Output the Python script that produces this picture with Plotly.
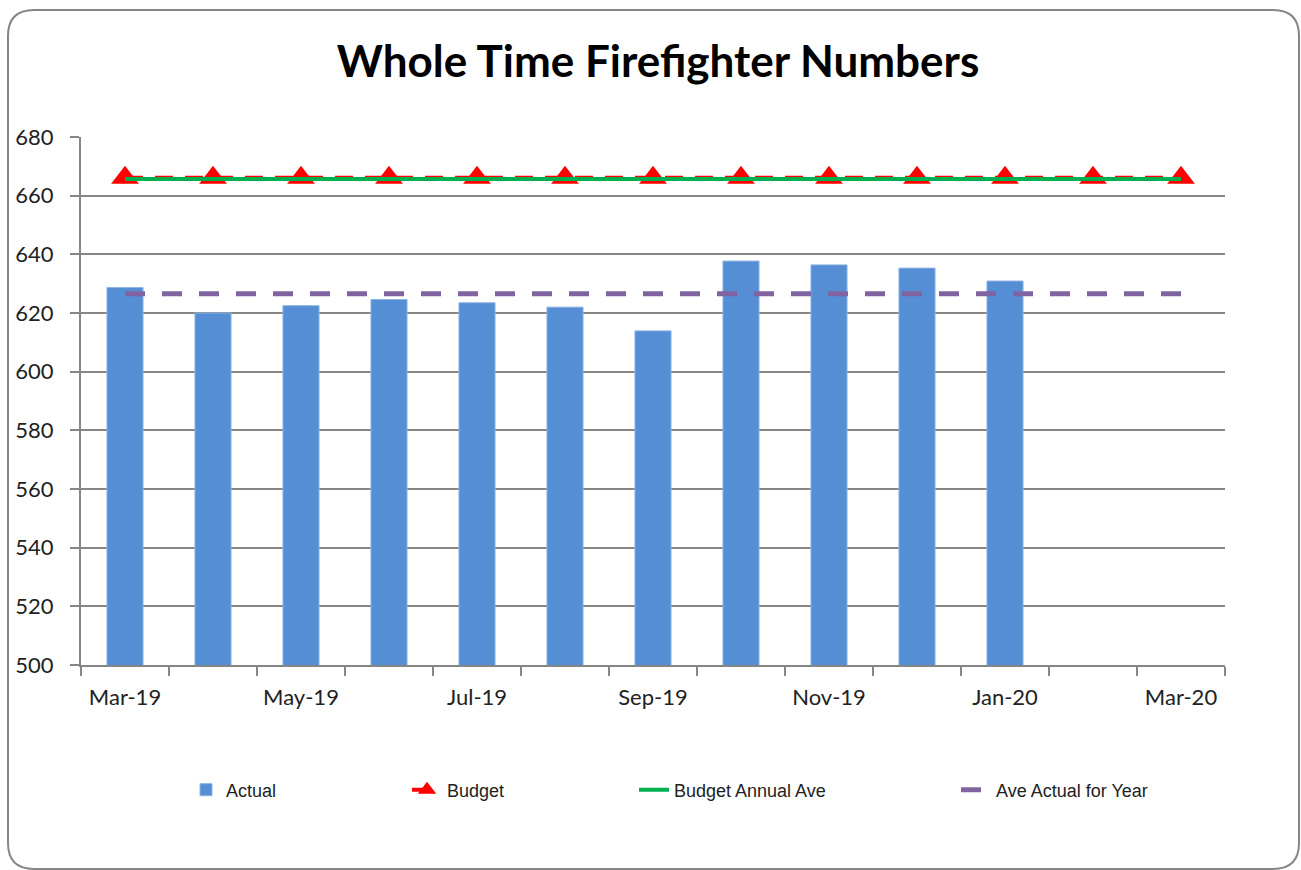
import plotly.graph_objects as go

months = ["Mar-19", "Apr-19", "May-19", "Jun-19", "Jul-19", "Aug-19", "Sep-19",
          "Oct-19", "Nov-19", "Dec-19", "Jan-20", "Feb-20", "Mar-20"]
tick_labels = ["Mar-19", "", "May-19", "", "Jul-19", "", "Sep-19",
               "", "Nov-19", "", "Jan-20", "", "Mar-20"]
actual = [628.7, 620.0, 622.5, 624.6, 623.5, 622.0, 613.9, 637.7, 636.4, 635.3, 630.9]
budget = [666.1] * 13
budget_annual_ave = [665.7] * 13
ave_actual_year = [626.6] * 13
y_ticks = [500, 520, 540, 560, 580, 600, 620, 640, 660, 680]

W, H = 1301, 870
L, R, T, B = 81, 1225, 137, 665

def px(x):
    return (x - L) / (R - L)

def py(y):
    return (B - y) / (B - T)

fig = go.Figure()
fig.add_trace(go.Bar(
    x=months[:len(actual)], y=actual, name="Actual", legend="legend",
    marker=dict(color="#558ED5", line=dict(color="#8DB4E2", width=1)),
))
fig.add_trace(go.Scatter(
    x=months, y=budget, name="Budget", mode="lines+markers", legend="legend2",
    line=dict(color="#FF0000", width=4, dash="18px,12px"),
    marker=dict(symbol="triangle-up", size=24, color="#FF0000"),
))
fig.add_trace(go.Scatter(
    x=months, y=budget_annual_ave, name="Budget Annual Ave", mode="lines", legend="legend3",
    line=dict(color="#00B050", width=4),
))
fig.add_trace(go.Scatter(
    x=months, y=ave_actual_year, name="Ave Actual for Year", mode="lines", legend="legend4",
    line=dict(color="#8064A2", width=5, dash="20px,17px"),
))

# rounded chart border
x0, x1, y0, y1, r = 8, 1299, 10, 869, 26
rx = r / (R - L)
ry = r / (B - T)
path = (f"M {px(x0)},{py(y0) - ry} Q {px(x0)},{py(y0)} {px(x0) + rx},{py(y0)} "
        f"L {px(x1) - rx},{py(y0)} Q {px(x1)},{py(y0)} {px(x1)},{py(y0) - ry} "
        f"L {px(x1)},{py(y1) + ry} Q {px(x1)},{py(y1)} {px(x1) - rx},{py(y1)} "
        f"L {px(x0) + rx},{py(y1)} Q {px(x0)},{py(y1)} {px(x0)},{py(y1) + ry} Z")
fig.add_shape(type="path", path=path, xref="paper", yref="paper",
              line=dict(color="#868686", width=2), layer="below")

legend_font = dict(family="Liberation Sans, Arial, sans-serif", size=18, color="#222222")
def legend_at(text_x):
    return dict(orientation="h", x=px(text_x - 42), xanchor="left", y=py(790), yanchor="middle",
                font=legend_font, bgcolor="rgba(0,0,0,0)")

fig.update_layout(
    width=W, height=H,
    margin=dict(l=L, r=W - R, t=T, b=H - B, autoexpand=False),
    paper_bgcolor="white", plot_bgcolor="white",
    title=dict(text="<b>Whole Time Firefighter Numbers</b>", x=px(658), xanchor="center",
               xref="paper", y=1 - 62 / H, yanchor="middle",
               font=dict(family="Lato, Open Sans, sans-serif", size=44, color="black")),
    bargap=0.59,
    showlegend=True,
    legend=legend_at(228),
    legend2=legend_at(449),
    legend3=legend_at(676),
    legend4=legend_at(998),
    font=dict(family="Lato, Open Sans, sans-serif", size=22, color="#222222"),
)
fig.update_xaxes(
    type="category", tickmode="array", tickvals=months, ticktext=tick_labels,
    tickson="boundaries", ticks="outside", ticklen=9, tickcolor="#868686", tickwidth=2,
    showline=True, linecolor="#868686", linewidth=2, showgrid=False,
    range=[-0.5, 12.5], tickfont=dict(size=22, color="#222222"), tickangle=0,
    ticklabelstandoff=12, automargin=False,
)
fig.update_yaxes(
    range=[500, 680], tickmode="array", tickvals=y_ticks,
    ticks="outside", ticklen=9, tickcolor="#868686", tickwidth=2,
    showline=True, linecolor="#868686", linewidth=2,
    showgrid=True, gridcolor="#868686", gridwidth=2, zeroline=False,
    tickfont=dict(size=22, color="#222222"), ticklabelstandoff=12, automargin=False,
)

fig.write_html("out.html", config={"displayModeBar": False},
               post_script="document.body.style.margin='0';")
